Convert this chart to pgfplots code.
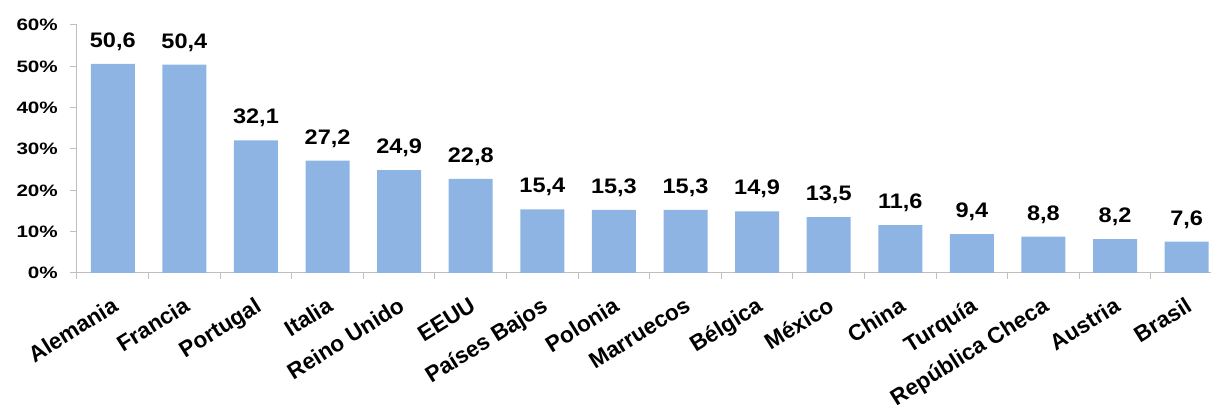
\documentclass[border=0pt]{standalone}
\usepackage{fontspec}
\setmainfont{Liberation Sans}
\newfontfamily\tickfont{Liberation Sans}[FakeStretch=1.25]
\newfontfamily\valfont{Liberation Sans}[FakeStretch=1.12]
\usepackage{pgfplots}
\pgfplotsset{compat=1.18}
\definecolor{barblue}{RGB}{141,180,226}
\definecolor{axisgray}{RGB}{191,191,191}
\begin{document}
\begin{tikzpicture}
\begin{axis}[
  at={(0pt,0pt)}, anchor=south west,
  scale only axis, width=1134pt, height=248pt,
  xmin=-0.5, xmax=15.34, ymin=0, ymax=60,
  axis x line*=bottom, axis y line*=left,
  axis line style={axisgray, line width=1pt},
  ytick={0,10,...,60},
  yticklabels={0\%,10\%,20\%,30\%,40\%,50\%,60\%},
  xtick={0,...,15},
  xticklabels={Alemania,Francia,Portugal,Italia,Reino Unido,EEUU,Países Bajos,Polonia,Marruecos,Bélgica,México,China,Turquía,República Checa,Austria,Brasil},
  minor xtick={-0.5,0.5,...,14.5},
  major x tick style={draw=none},
  tick align=outside,
  tick style={axisgray, line width=1pt},
  major tick length=7pt, minor tick length=6pt,
  yticklabel style={font=\tickfont\fontsize{16.5}{18}\selectfont\bfseries, anchor=east, inner sep=0pt, xshift=-12pt},
  xticklabel style={font=\fontsize{22.5}{24}\selectfont\bfseries, xshift=-2pt, yshift=-16pt, rotate=32, anchor=north east, inner sep=0pt},
  ybar, bar width=44pt,
  clip=false,
  nodes near coords={\pgfmathprintnumber[use comma, fixed, precision=1, fixed zerofill, assume math mode=true]{\pgfplotspointmeta}},
  every node near coord/.append style={font=\valfont\fontsize{21}{23}\selectfont\bfseries, anchor=base, inner sep=0pt, yshift=16.5pt, black},
]
\addplot[fill=barblue, draw=none] coordinates {
(0,50.6) (1,50.4) (2,32.1) (3,27.2) (4,24.9) (5,22.8) (6,15.4) (7,15.3)
(8,15.3) (9,14.9) (10,13.5) (11,11.6) (12,9.4) (13,8.8) (14,8.2) (15,7.6)};
\end{axis}
\pgfresetboundingbox
\path (-77pt,-139pt) rectangle (1134pt,273pt);
\end{tikzpicture}
\end{document}
